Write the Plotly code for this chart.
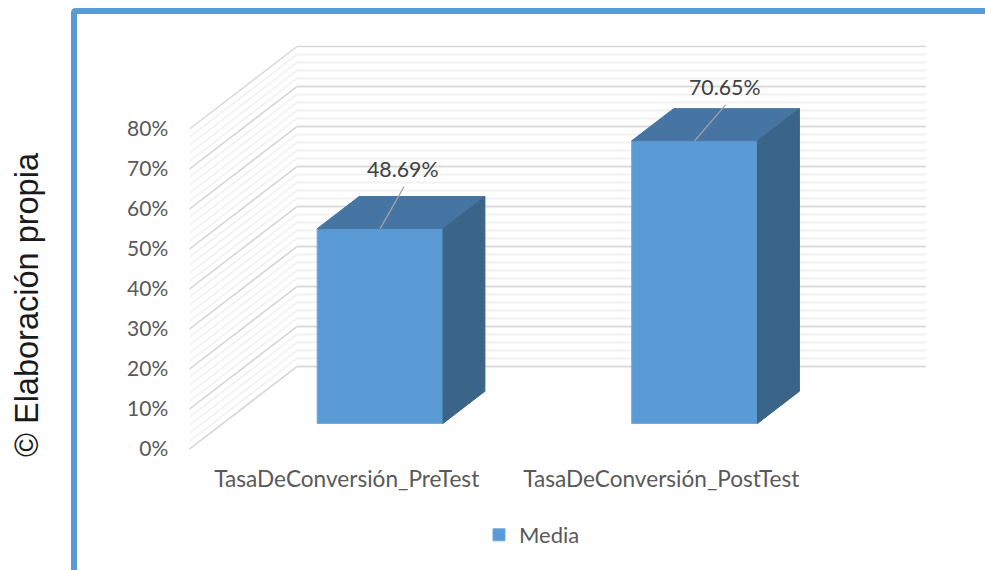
import plotly.graph_objects as go

# Chart data
categories = ["TasaDeConversión_PreTest", "TasaDeConversión_PostTest"]
media = [48.69, 70.65]
value_labels = ["48.69%", "70.65%"]
y_ticks = [0, 10, 20, 30, 40, 50, 60, 70, 80]
y_tick_labels = ["0%", "10%", "20%", "30%", "40%", "50%", "60%", "70%", "80%"]
series_name = "Media"
credit = "© Elaboración propia"

# Figure geometry
WIDTH, HEIGHT = 985, 570
PX_PER_CAT = 314.5
PX_PER_PCT = 4.0
ORIGIN_X, ORIGIN_Y = 189.5, 449.0

# Oblique projection: depth 0 is the front edge of the floor, depth 1 the back wall
SHEAR_X = 107.5 / PX_PER_CAT
SHEAR_Y = 82.5 / PX_PER_PCT
BAR_NEAR, BAR_FAR = 0.31, 0.70
BAR_WIDTH = 0.4

# Leader line ends and label positions, in pixels relative to the top-centre of the bar face
LEADER_END = [(24, -42), (31, -36)]
LABEL_POS = [(23, -60), (30, -54)]


def project(cat, value, depth):
    return cat + depth * SHEAR_X, value + depth * SHEAR_Y


def line_shape(points, color, width):
    (x0, y0), (x1, y1) = points
    return dict(type="line", xref="x", yref="y", layer="below", x0=x0, y0=y0, x1=x1, y1=y1,
                line=dict(color=color, width=width))


def paper_x(px):
    return px / WIDTH


def paper_y(px):
    return 1 - px / HEIGHT


shapes = []
# Wall and side gridlines: a minor line every 2 %, a major one every 10 %
for level in list(range(0, 80, 2)) + y_ticks:
    major = level % 10 == 0
    color = "#D9D9D9" if major else "#F2F2F2"
    width = 1.5 if major else 2
    front = project(0, level, 0)
    back = project(0, level, 1)
    end = project(2, level, 1)
    shapes.append(line_shape((front, back), color, width))
    shapes.append(line_shape((back, end), color, width))

# Blue frame along the top and left of the page
shapes.append(dict(
    type="path", xref="paper", yref="paper", layer="below",
    path=(f"M {paper_x(74)},{paper_y(570)} L {paper_x(74)},{paper_y(13)} "
          f"Q {paper_x(74)},{paper_y(11)} {paper_x(76)},{paper_y(11)} L {paper_x(985)},{paper_y(11)}"),
    line=dict(color="#5B9BD5", width=6),
))

fig = go.Figure()

centers = [i + 0.5 for i in range(len(media))]
near_x = [project(c, 0, BAR_NEAR)[0] for c in centers]
near_base = project(0, 0, BAR_NEAR)[1]

# Front faces of the columns
fig.add_trace(go.Bar(
    x=near_x, y=media, base=near_base, width=BAR_WIDTH, name=series_name,
    marker=dict(color="#5B9BD5", line=dict(color="#6FA8DC", width=1)),
    hoverinfo="skip",
))

# Top and side faces
for c, v in zip(centers, media):
    l, r = c - BAR_WIDTH / 2, c + BAR_WIDTH / 2
    top = [project(l, v, BAR_NEAR), project(r, v, BAR_NEAR), project(r, v, BAR_FAR), project(l, v, BAR_FAR)]
    side = [project(r, 0, BAR_NEAR), project(r, 0, BAR_FAR), project(r, v, BAR_FAR), project(r, v, BAR_NEAR)]
    for face, color in ((top, "#4675A3"), (side, "#3A6488")):
        xs, ys = zip(*(face + face[:1]))
        fig.add_trace(go.Scatter(
            x=xs, y=ys, mode="lines", fill="toself", fillcolor=color,
            line=dict(color=color, width=1), showlegend=False, hoverinfo="skip",
        ))

# Leader lines and value labels
annotations = []
for c, v, text, (ex, ey), (tx, ty) in zip(centers, media, value_labels, LEADER_END, LABEL_POS):
    x0, y0 = project(c, v, BAR_NEAR)
    fig.add_trace(go.Scatter(
        x=[x0, x0 + ex / PX_PER_CAT], y=[y0, y0 - ey / PX_PER_PCT], mode="lines",
        line=dict(color="#A6A6A6", width=1.2), showlegend=False, hoverinfo="skip",
    ))
    annotations.append(dict(
        x=x0, y=y0, xref="x", yref="y", text=text, showarrow=False,
        xshift=tx, yshift=-ty, xanchor="center", yanchor="middle",
        font=dict(family="Lato", size=21.3, color="#404040"),
    ))

annotations.append(dict(
    x=paper_x(27), y=paper_y(305), xref="paper", yref="paper", text=credit, showarrow=False,
    textangle=-90, xanchor="center", yanchor="middle",
    font=dict(family="Liberation Sans", size=32.5, color="#1A1A1A"),
))

fig.update_layout(
    width=WIDTH, height=HEIGHT, autosize=False,
    margin=dict(l=0, r=0, t=0, b=0),
    paper_bgcolor="white", plot_bgcolor="white",
    shapes=shapes, annotations=annotations,
    showlegend=True,
    legend=dict(
        orientation="h", x=paper_x(532), y=paper_y(535), xanchor="center", yanchor="middle",
        font=dict(family="Lato", size=22, color="#595959"), bgcolor="rgba(0,0,0,0)",
    ),
    xaxis=dict(
        range=[-ORIGIN_X / PX_PER_CAT, (WIDTH - ORIGIN_X) / PX_PER_CAT],
        tickmode="array", tickvals=centers, ticktext=categories,
        showgrid=False, zeroline=False, showline=False,
        anchor="free", position=paper_y(ORIGIN_Y),
        ticks="outside", ticklen=10, tickcolor="rgba(0,0,0,0)",
        tickfont=dict(family="Lato", size=22.6, color="#595959"),
    ),
    yaxis=dict(
        range=[(ORIGIN_Y - HEIGHT) / PX_PER_PCT, ORIGIN_Y / PX_PER_PCT],
        tickmode="array", tickvals=y_ticks, ticktext=y_tick_labels,
        showgrid=False, zeroline=False, showline=False,
        anchor="free", position=paper_x(ORIGIN_X),
        ticks="outside", ticklen=17, tickcolor="rgba(0,0,0,0)",
        tickfont=dict(family="Lato", size=21, color="#595959"),
    ),
)

fig.write_html("out.html")
